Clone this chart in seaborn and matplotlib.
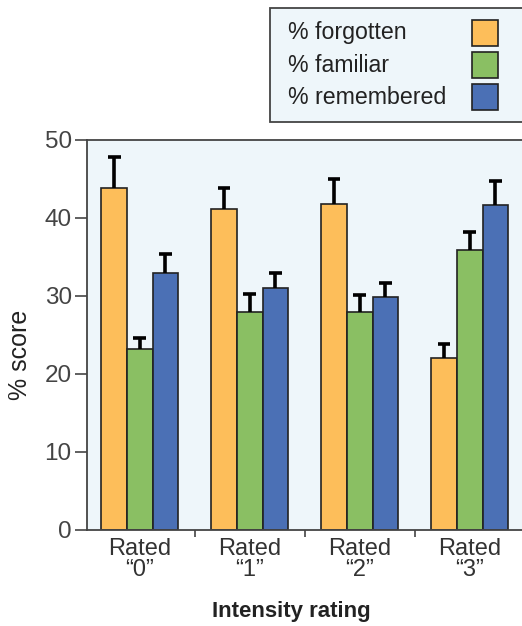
import pandas as pd
import numpy as np
import matplotlib.pyplot as plt
import seaborn as sns
from matplotlib.patches import Rectangle

ratings = ['Rated\n\u201c0\u201d', 'Rated\n\u201c1\u201d', 'Rated\n\u201c2\u201d', 'Rated\n\u201c3\u201d']
series = ['% forgotten', '% familiar', '% remembered']
forgotten = [43.9, 41.1, 41.8, 22.0]
familiar = [23.2, 28.0, 28.0, 35.9]
remembered = [33.0, 31.0, 29.9, 41.7]
forgotten_err = [3.9, 2.7, 3.2, 1.9]
familiar_err = [1.4, 2.3, 2.1, 2.3]
remembered_err = [2.4, 2.0, 1.8, 3.0]

colors = ['#fdbe5a', '#8abf63', '#4b70b5']
bg = '#eef6fa'

values = [forgotten, familiar, remembered]
errors = [forgotten_err, familiar_err, remembered_err]
df = pd.DataFrame({
    'rating': ratings * 3,
    'kind': np.repeat(series, 4),
    'score': np.concatenate(values),
})

sns.set_style('ticks')
plt.rcParams['font.family'] = ['Liberation Sans', 'DejaVu Sans']

fig = plt.figure(figsize=(5.22, 6.26), dpi=100)
W, H = 522, 626
ax = fig.add_axes([87 / W, 1 - 530 / H, 435 / W, 390 / H])
ax.set_facecolor(bg)

sns.barplot(data=df, x='rating', y='score', hue='kind', hue_order=series,
            palette=colors, saturation=1, width=0.7, gap=0,
            edgecolor='#222222', linewidth=1.2, errorbar=None, legend=False,
            ax=ax)

# upper error bars only
for cont, err in zip(ax.containers, errors):
    for bar, e in zip(cont, err):
        xc = bar.get_x() + bar.get_width() / 2
        top = bar.get_height()
        ax.vlines(xc, top, top + e, color='black', lw=2.6, zorder=5)
        ax.hlines(top + e, xc - 0.058, xc + 0.058, color='black', lw=2.6, zorder=5)

ax.set_xlim(-0.48, 3.475)
ax.set_ylim(0, 50)
ax.set_yticks(range(0, 51, 10))
ax.tick_params(axis='y', length=9, width=1.2, color='#444444', labelsize=17.5,
               labelcolor='#444444', pad=2)
ax.tick_params(axis='x', which='major', length=0, labelsize=17,
               labelcolor='#333333', pad=6)
ax.set_xticks([0.5, 1.5, 2.5], minor=True)
ax.tick_params(axis='x', which='minor', length=5, width=1.2, color='#444444')
for lab in ax.get_xticklabels():
    lab.set_linespacing(0.95)

for s in ['top', 'left', 'bottom']:
    ax.spines[s].set_color('#444444')
    ax.spines[s].set_linewidth(1.3)
ax.spines['right'].set_visible(False)

ax.set_ylabel('% score', fontsize=18, color='#222222', va='center')
ax.yaxis.set_label_coords(-0.155, 0.449)
ax.set_xlabel('Intensity rating', fontsize=16, fontweight='bold',
              color='#222222', va='center')
ax.xaxis.set_label_coords(0.469, -0.21)

# legend box, cut off at right edge like the original
fig.patches.append(Rectangle((270 / W, 1 - 122 / H), 280 / W, 114 / H,
                             transform=fig.transFigure, facecolor=bg,
                             edgecolor='#444444', lw=1.3, clip_on=False))
for i, (name, c) in enumerate(zip(series, colors)):
    yc = 33 + 32 * i
    fig.text(288 / W, 1 - yc / H, name, fontsize=16.7, color='#222222',
             ha='left', va='center')
    fig.patches.append(Rectangle((472 / W, 1 - (yc + 13) / H), 26 / W, 26 / H,
                                 transform=fig.transFigure, facecolor=c,
                                 edgecolor='#222222', lw=1.2))

fig.savefig('out.png', dpi=100)
